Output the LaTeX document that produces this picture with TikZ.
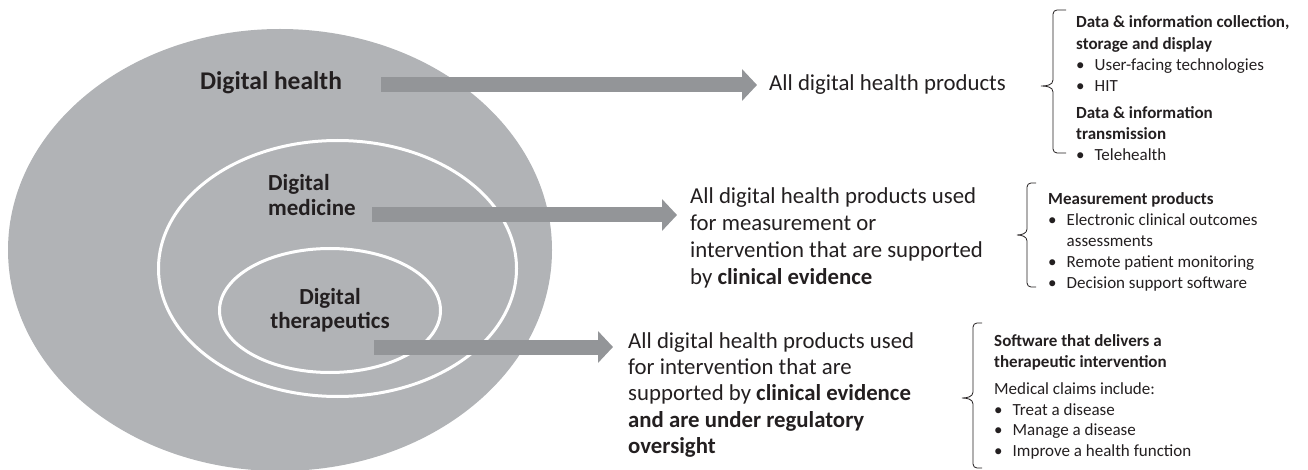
\documentclass[tikz,border=0pt]{standalone}
\usepackage{fontspec}
\setmainfont{Carlito}
\usetikzlibrary{arrows.meta,calc}
\definecolor{ring}{HTML}{B1B3B6}
\definecolor{barfill}{HTML}{939598}
\definecolor{ink}{HTML}{231F20}
\newcommand{\bul}{\makebox[18.5pt][l]{•}}
\newcommand{\bulind}{\hspace*{18.5pt}}

\begin{document}
\begin{tikzpicture}[x=1pt,y=-1pt,
  every node/.style={text=ink, inner sep=0pt},
  ringlabel/.style={font=\fontsize{23}{25}\selectfont\bfseries},
  desc/.style={font=\fontsize{22.8}{27}\selectfont, align=left, anchor=west},
  side/.style={font=\fontsize{17}{20.8}\selectfont, align=left, anchor=north west},
  bararrow/.style={draw=barfill, line width=15pt, -{Triangle[width=31pt,length=15pt]}},
  bracket/.style={draw=ink, line width=0.8pt},
  ringline/.style={draw=white, line width=3pt},
]
\useasboundingbox (0,0) rectangle (1308,470);

% nested scopes
\fill[ring] (280,250) ellipse [x radius=272pt, y radius=221pt];
\draw[ringline] (337.5,268.5) ellipse [x radius=179pt, y radius=128pt];
\draw[ringline] (330,310.5) ellipse [x radius=110.5pt, y radius=62pt];

% scope names
\node[ringlabel, font=\fontsize{25.5}{28}\selectfont\bfseries] (dh) at (271,83) {Digital health};
\node[ringlabel, align=left, anchor=west] (dm) at (268,195) {Digital\\medicine};
\node[ringlabel, align=center, font=\fontsize{23}{24}\selectfont\bfseries] (dt) at (330,310) {Digital\\therapeutics};

% definitions
\node[desc] (dhtext) at (769,85) {All digital health products};
\node[desc] (dmtext) at (690,238) {All digital health products used\\for measurement or\\intervention that are supported\\by \textbf{clinical evidence}};
\node[desc, font=\fontsize{22.8}{26.3}\selectfont] (dttext) at (628,395) {All digital health products used\\for intervention that are\\supported by \textbf{clinical evidence}\\\textbf{and are under regulatory}\\\textbf{oversight}};

% block arrows
\coordinate (dhs) at (381,85);
\coordinate (dms) at (372,215);
\coordinate (dts) at (374,347);
\draw[bararrow] (dhs) -- ($(dhtext.west)+(-12,0)$);
\draw[bararrow] (dms) -- ($(dmtext.west |- dms)+(-13,0)$);
\draw[bararrow] (dts) -- ($(dttext.west |- dts)+(-15,0)$);

% examples
\node[side] (ex1) at (1076,15.5) {\textbf{Data \& information collection,}\\[1.5pt]
\textbf{storage and display}\\
\bul User-facing technologies\\
\bul HIT\\[6pt]
\textbf{Data \& information}\\
\textbf{transmission}\\[1pt]
\bul Telehealth};
\node[side, font=\fontsize{17}{21}\selectfont] (ex2) at (1048,192) {\textbf{Measurement products}\\
\bul Electronic clinical outcomes\\
\bulind assessments\\
\bul Remote patient monitoring\\
\bul Decision support software};
\node[side] (ex3) at (994,334.5) {\textbf{Software that delivers a}\\
\textbf{therapeutic intervention}\\[6pt]
Medical claims include:\\
\bul Treat a disease\\
\bul Manage a disease\\
\bul Improve a health function};

% brackets
\draw[bracket] (1066,10) -- (1057,10) to[out=180,in=90] (1053,14) -- (1053,80)
  to[out=-90,in=0] (1041,86) to[out=0,in=90] (1053,92) -- (1053,149)
  to[out=-90,in=180] (1057,153) -- (1066,153);
\draw[bracket] (1036,183) -- (1031,183) to[out=180,in=90] (1027,187) -- (1027,229)
  to[out=-90,in=0] (1017,235) to[out=0,in=90] (1027,241) -- (1027,283)
  to[out=-90,in=180] (1031,287) -- (1036,287);
\draw[bracket] (982,323) -- (977,323) to[out=180,in=90] (973,327) -- (973,392)
  to[out=-90,in=0] (962,398) to[out=0,in=90] (973,404) -- (973,464)
  to[out=-90,in=180] (977,468) -- (982,468);
\end{tikzpicture}
\end{document}
